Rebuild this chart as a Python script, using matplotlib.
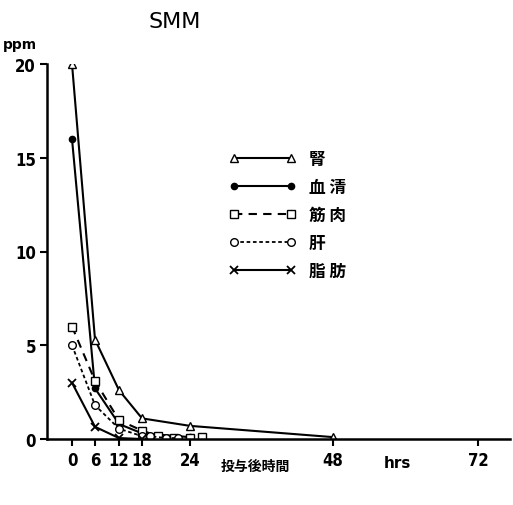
import matplotlib
matplotlib.use("Agg")
import matplotlib.pyplot as plt
import numpy as np

plt.rcParams["font.family"] = ["DejaVu Sans", "Noto Sans CJK JP"]

# data
kidney_h = [0, 6, 12, 18, 24, 48]
kidney = [20, 5.3, 2.6, 1.1, 0.7, 0.1]
serum_h = [0, 6, 12, 18, 24]
serum = [16, 2.7, 0.8, 0.3, 0.1]
muscle_h = [0, 6, 12, 18, 20, 22, 24, 26]
muscle = [6, 3.1, 1.0, 0.45, 0.15, 0.08, 0.08, 0.1]
liver_h = [0, 6, 12, 18, 19, 21, 22.5]
liver = [5, 1.8, 0.55, 0.15, 0.15, 0.05, 0.05]
fat_h = [0, 6, 12, 18]
fat = [3, 0.65, 0.05, 0.0]
labels = ["腎", "血 清", "筋 肉", "肝", "脂 肪"]
xticks = [0, 6, 12, 18, 24, 48, 72]
yticks = [0, 5, 10, 15, 20]

# the printed time axis is not linear; piecewise mapping of hours to position
KNOT_H = np.array([-6, 0, 6, 12, 18, 24, 48, 72, 80])
KNOT_P = np.array([47, 72, 95, 119, 142, 190, 333, 478, 526], dtype=float)


def fwd(x):
    return np.interp(x, KNOT_H, KNOT_P)


def inv(p):
    return np.interp(p, KNOT_P, KNOT_H)


fig = plt.figure(figsize=(5.13, 5.06), dpi=100)
ax = fig.add_axes([47 / 513, 1 - 440 / 506, (510 - 47) / 513, (440 - 65) / 506])
ax.set_xscale("function", functions=(fwd, inv))
ax.set_xlim(-6, 77.3)
ax.set_ylim(0, 20)

lw = 1.5
ms = 5.5
ax.plot(kidney_h, kidney, "-", marker="^", color="black", mfc="white", ms=ms, lw=lw, label=labels[0])
ax.plot(serum_h, serum, "-", marker="o", color="black", mfc="black", ms=4.5, lw=lw, label=labels[1])
ax.plot(muscle_h, muscle, "--", marker="s", color="black", mfc="white", ms=ms, lw=lw,
        dashes=(4, 3), label=labels[2])
ax.plot(liver_h, liver, "--", marker="o", color="black", mfc="white", ms=ms, lw=1.3,
        dashes=(2, 1.5), label=labels[3])
ax.plot(fat_h, fat, "-", marker="x", color="black", ms=ms, lw=lw, mew=1.3, label=labels[4])

for side in ["top", "right"]:
    ax.spines[side].set_visible(False)
for side in ["left", "bottom"]:
    ax.spines[side].set_linewidth(1.8)

ax.set_xticks(xticks)
ax.set_xticklabels([str(t) for t in xticks])
ax.set_yticks(yticks)
ax.set_yticklabels([str(t) for t in yticks])
ax.xaxis.set_minor_locator(matplotlib.ticker.NullLocator())
ax.tick_params(axis="both", direction="out", length=5, width=1.5, labelsize=12)
ax.tick_params(axis="x", pad=4)
ax.tick_params(axis="y", pad=3)
for t in ax.get_xticklabels() + ax.get_yticklabels():
    t.set_fontweight("bold")
    t.set_fontstretch("condensed")

leg = ax.legend(loc="upper left", bbox_to_anchor=(214 / 513, 1 - 136 / 506),
                bbox_transform=fig.transFigure, frameon=False, numpoints=2,
                handlelength=4.0, labelspacing=0.6, handletextpad=0.8,
                prop={"family": ["Noto Sans CJK JP"], "size": 12, "weight": "bold"})

fig.text(175 / 513, 1 - 22 / 506, "SMM", ha="center", va="center", fontsize=16)
fig.text(20 / 513, 1 - 45 / 506, "ppm", ha="center", va="center", fontsize=10, fontweight="bold")
fig.text(255 / 513, 1 - 467 / 506, "投与後時間", ha="center", va="center", fontsize=10,
         family=["Noto Sans CJK JP"], fontweight="bold")
fig.text(397 / 513, 1 - 463 / 506, "hrs", ha="center", va="center", fontsize=11, fontweight="bold")

fig.savefig("out.png", dpi=100)
